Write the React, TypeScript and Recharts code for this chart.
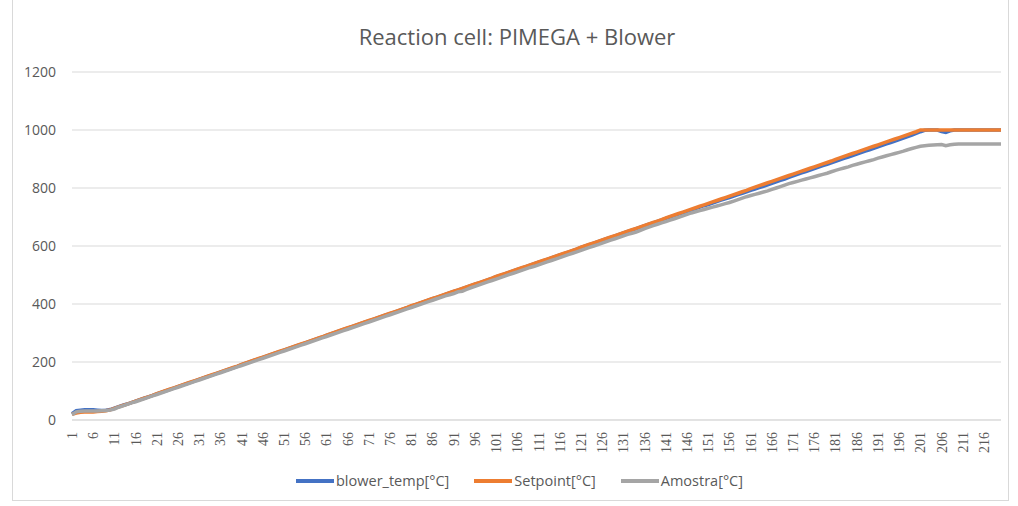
import React from "react";
import { LineChart, Line, XAxis, YAxis, CartesianGrid } from "recharts";

const categories = Array.from({ length: 220 }, (_, i) => String(i + 1));

const blowerTemp = [
  22, 32, 34, 35, 35, 35, 34, 33, 34, 36,
  41, 46, 51, 55, 60, 65, 70, 75, 80, 85,
  90, 95, 100, 105, 110, 115, 120, 125, 130, 135,
  140, 145, 150, 155, 160, 165, 170, 175, 180, 185,
  191, 196, 201, 206, 211, 216, 221, 226, 231, 236,
  241, 246, 251, 256, 261, 266, 271, 276, 281, 286,
  292, 297, 302, 307, 312, 317, 322, 327, 332, 337,
  342, 347, 352, 357, 362, 367, 372, 377, 382, 387,
  393, 398, 403, 408, 413, 418, 423, 428, 433, 438,
  443, 448, 453, 458, 463, 468, 473, 478, 483, 488,
  494, 499, 504, 509, 514, 519, 524, 529, 534, 539,
  544, 549, 554, 559, 564, 569, 574, 579, 584, 589,
  595, 600, 605, 610, 615, 620, 625, 630, 635, 640,
  645, 650, 655, 660, 665, 670, 675, 680, 685, 690,
  695, 700, 705, 710, 714, 719, 724, 729, 734, 739,
  743, 748, 753, 758, 763, 767, 772, 777, 782, 787,
  792, 796, 801, 806, 811, 816, 821, 826, 831, 837,
  842, 847, 852, 857, 862, 867, 872, 877, 882, 887,
  892, 897, 902, 907, 912, 917, 922, 927, 932, 937,
  942, 947, 952, 957, 962, 967, 972, 977, 982, 988,
  994, 999, 1000, 1000, 1000, 995, 992, 997, 1000, 1000,
  1000, 1000, 1000, 1000, 1000, 1000, 1000, 1000, 1000, 1000,
];

const setpoint = [
  20, 24, 27, 28, 28, 28, 29, 30, 32, 35,
  40, 45, 50, 55, 60, 65, 70, 75, 80, 85,
  91, 96, 101, 106, 111, 116, 121, 126, 131, 136,
  141, 146, 151, 156, 161, 166, 171, 176, 181, 186,
  192, 197, 202, 207, 212, 217, 222, 227, 232, 237,
  242, 247, 252, 257, 262, 267, 272, 277, 282, 287,
  293, 298, 303, 308, 313, 318, 323, 328, 333, 338,
  343, 348, 353, 358, 363, 368, 373, 378, 383, 388,
  394, 399, 404, 409, 414, 419, 424, 429, 434, 439,
  444, 449, 454, 459, 464, 469, 474, 479, 484, 489,
  495, 500, 505, 510, 515, 520, 525, 530, 535, 540,
  545, 550, 555, 560, 565, 570, 575, 580, 585, 590,
  596, 601, 606, 611, 616, 621, 626, 631, 636, 641,
  646, 651, 656, 661, 666, 671, 676, 681, 686, 691,
  697, 702, 707, 712, 717, 722, 727, 732, 737, 742,
  747, 752, 757, 762, 767, 772, 777, 782, 787, 792,
  798, 803, 808, 813, 818, 823, 828, 833, 838, 843,
  848, 853, 858, 863, 868, 873, 878, 883, 888, 893,
  899, 904, 909, 914, 919, 924, 929, 934, 939, 944,
  949, 954, 959, 964, 969, 974, 979, 984, 989, 994,
  1000, 1000, 1000, 1000, 1000, 1000, 1000, 1000, 1000, 1000,
  1000, 1000, 1000, 1000, 1000, 1000, 1000, 1000, 1000, 1000,
];

const amostra = [
  18, 28, 30, 31, 31, 31, 31, 32, 33, 34,
  38, 44, 49, 54, 59, 63, 68, 73, 78, 83,
  88, 93, 98, 103, 108, 113, 118, 123, 128, 133,
  138, 143, 148, 153, 158, 163, 168, 173, 178, 183,
  188, 193, 198, 203, 208, 213, 218, 223, 228, 233,
  238, 243, 248, 253, 258, 263, 268, 273, 278, 283,
  288, 293, 298, 303, 308, 313, 318, 323, 328, 333,
  338, 343, 348, 353, 358, 363, 368, 373, 378, 383,
  388, 393, 398, 403, 408, 413, 418, 423, 428, 432,
  436, 442, 444, 450, 456, 461, 466, 471, 476, 481,
  486, 491, 496, 501, 506, 511, 516, 521, 526, 530,
  535, 540, 545, 550, 555, 560, 565, 570, 575, 580,
  585, 590, 595, 600, 605, 610, 615, 620, 625, 630,
  635, 640, 644, 648, 654, 660, 665, 670, 675, 680,
  684, 689, 694, 699, 704, 709, 714, 718, 722, 726,
  730, 734, 738, 742, 746, 750, 755, 760, 765, 770,
  774, 778, 782, 786, 790, 795, 800, 805, 810, 815,
  819, 823, 827, 831, 835, 839, 843, 847, 851, 856,
  861, 865, 869, 873, 878, 882, 886, 890, 894, 898,
  903, 907, 911, 915, 919, 923, 927, 932, 936, 940,
  944, 946, 947, 948, 949, 950, 946, 949, 951, 952,
  952, 952, 952, 952, 952, 952, 952, 952, 952, 952,
];

const yTicks = [0, 200, 400, 600, 800, 1000, 1200];

const series = [
  { key: "blower", name: "blower_temp[°C]", color: "#4472C4", values: blowerTemp },
  { key: "setpoint", name: "Setpoint[°C]", color: "#ED7D31", values: setpoint },
  { key: "amostra", name: "Amostra[°C]", color: "#A5A5A5", values: amostra },
];

const data = categories.map((c, i) => ({
  cat: c,
  blower: blowerTemp[i],
  setpoint: setpoint[i],
  amostra: amostra[i],
}));

const sans = "'Open Sans', 'Noto Sans', sans-serif";

const XTick = (props: any) => {
  const { x, y, payload } = props;
  return (
    <text
      x={x}
      y={y}
      transform={`rotate(-90, ${x}, ${y})`}
      textAnchor="end"
      dy="0.35em"
      fill="#595959"
      fontSize={14}
      fontFamily="'Liberation Serif', serif"
    >
      {payload.value}
    </text>
  );
};

export default function App() {
  return (
    <div style={{ position: "absolute", left: 0, top: 0, width: 1018, height: 506, background: "#fff" }}>
      <div
        style={{
          position: "absolute",
          left: 12,
          top: -2,
          width: 997,
          height: 503,
          border: "1px solid #d9d9d9",
          boxSizing: "border-box",
        }}
      />
      <div
        style={{
          position: "absolute",
          left: 0,
          top: 21,
          width: 1034,
          textAlign: "center",
          fontFamily: sans,
          fontSize: 22,
          color: "#595959",
        }}
      >
        Reaction cell: PIMEGA + Blower
      </div>
      <div style={{ position: "absolute", left: 0, top: 0 }}>
        <LineChart width={1018} height={506} data={data} margin={{ top: 72, right: 17, left: 12, bottom: 0 }}>
          <CartesianGrid vertical={false} stroke="#d9d9d9" strokeWidth={1} />
          <XAxis
            dataKey="cat"
            interval={4}
            tick={<XTick />}
            tickLine={false}
            axisLine={{ stroke: "#d9d9d9" }}
            height={86}
            tickMargin={6}
          />
          <YAxis
            domain={[0, 1200]}
            ticks={yTicks}
            width={60}
            axisLine={false}
            tickLine={false}
            tickMargin={10}
            tick={{ fill: "#595959", fontSize: 14, fontFamily: sans }}
          />
          {series.map((s) => (
            <Line
              key={s.key}
              dataKey={s.key}
              name={s.name}
              stroke={s.color}
              strokeWidth={3.5}
              dot={false}
              type="linear"
              isAnimationActive={false}
            />
          ))}
        </LineChart>
      </div>
      <div
        style={{
          position: "absolute",
          left: 296,
          top: 471,
          display: "flex",
          gap: 25,
          fontFamily: sans,
          fontSize: 14.5,
          color: "#595959",
        }}
      >
        {series.map((s) => (
          <div key={s.key} style={{ display: "flex", alignItems: "center", gap: 2 }}>
            <div style={{ width: 38, height: 4, background: s.color }} />
            <span>{s.name}</span>
          </div>
        ))}
      </div>
    </div>
  );
}
